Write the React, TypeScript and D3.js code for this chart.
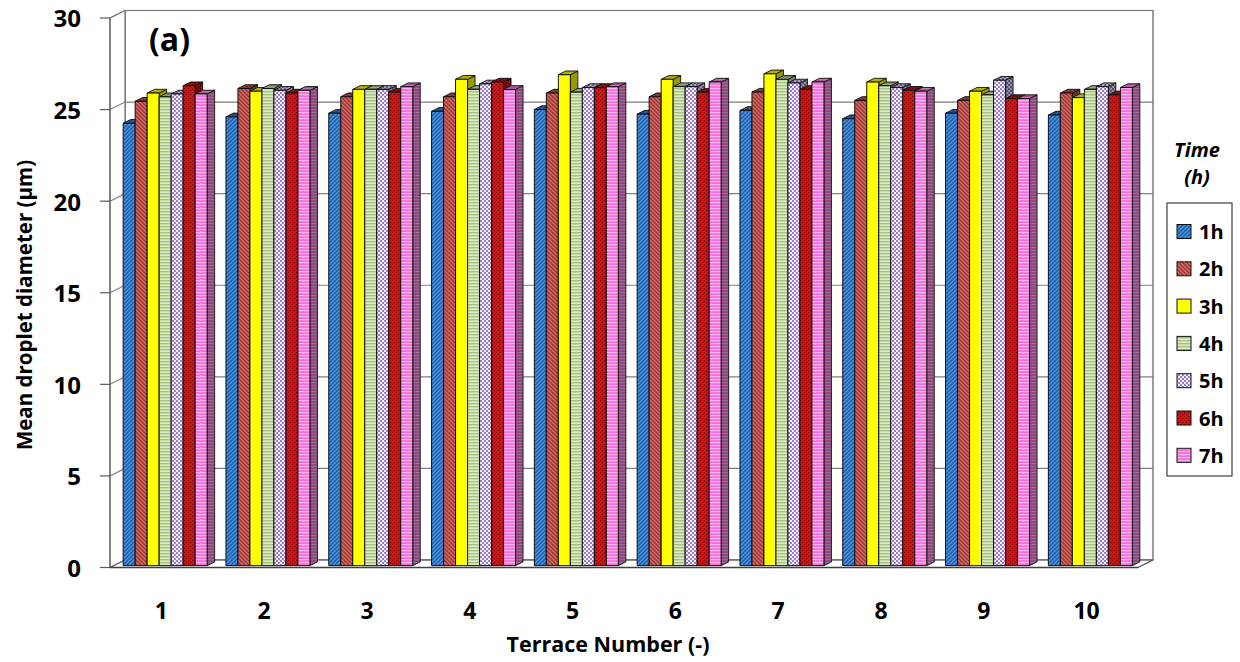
import React from 'react';
import * as d3 from 'd3';

const categories = ['1', '2', '3', '4', '5', '6', '7', '8', '9', '10'];
const seriesNames = ['1h', '2h', '3h', '4h', '5h', '6h', '7h'];
const values1h = [24.15, 24.5, 24.7, 24.8, 24.9, 24.65, 24.85, 24.4, 24.7, 24.6];
const values2h = [25.35, 26.05, 25.6, 25.6, 25.8, 25.6, 25.85, 25.4, 25.4, 25.8];
const values3h = [25.8, 25.9, 26.0, 26.55, 26.8, 26.55, 26.85, 26.4, 25.9, 25.55];
const values4h = [25.6, 26.05, 26.0, 26.0, 25.85, 26.15, 26.55, 26.2, 25.7, 26.0];
const values5h = [25.75, 25.95, 26.0, 26.3, 26.1, 26.15, 26.35, 26.1, 26.5, 26.15];
const values6h = [26.2, 25.8, 25.85, 26.4, 26.1, 25.85, 26.0, 25.95, 25.5, 25.7];
const values7h = [25.75, 25.95, 26.15, 26.0, 26.15, 26.4, 26.4, 25.9, 25.5, 26.1];
const yTicks = [0, 5, 10, 15, 20, 25, 30];

const seriesValues = [values1h, values2h, values3h, values4h, values5h, values6h, values7h];
const patternIds = ['p1', 'p2', 'p3', 'p4', 'p5', 'p6', 'p7'];

const FONT = '"Open Sans", "Liberation Sans", sans-serif';

export default function App() {
  const X0 = 110;
  const X1 = 1138;
  const DX = 15;
  const DY = -7.5;
  const F1 = 0.25;
  const F2 = 0.75;

  const y = d3.scaleLinear().domain([0, 30]).range([567.5, 18]);
  const xGroup = d3.scaleBand<string>().domain(categories).range([X0, X1]).paddingInner(0.183).paddingOuter(0.0915);
  const xSeries = d3.scaleBand<string>().domain(seriesNames).range([0, xGroup.bandwidth()]).padding(0);
  const xCenter = d3.scaleBand<string>().domain(categories).range([X0, X1]).padding(0);

  const P = (x: number, v: number, d: number): [number, number] => [x + d * DX, y(v) + d * DY];
  const poly = (pts: [number, number][]) => pts.map((p) => p[0].toFixed(2) + ',' + p[1].toFixed(2)).join(' ');

  const bars: React.ReactNode[] = [];
  categories.forEach((cat, ci) => {
    seriesNames.forEach((s, si) => {
      const v = seriesValues[si][ci];
      const x0 = (xGroup(cat) as number) + (xSeries(s) as number);
      const x1 = x0 + xSeries.bandwidth();
      const front = [P(x0, 0, F1), P(x1, 0, F1), P(x1, v, F1), P(x0, v, F1)] as [number, number][];
      const top = [P(x0, v, F1), P(x1, v, F1), P(x1, v, F2), P(x0, v, F2)] as [number, number][];
      const side = [P(x1, 0, F1), P(x1, 0, F2), P(x1, v, F2), P(x1, v, F1)] as [number, number][];
      const fill = `url(#${patternIds[si]})`;
      bars.push(
        <g key={cat + '-' + s}>
          <polygon points={poly(side)} fill={fill} />
          <polygon points={poly(side)} fill="#000" fillOpacity={0.4} stroke="#111" strokeWidth={0.9} />
          <polygon points={poly(top)} fill={fill} />
          <polygon points={poly(top)} fill="#000" fillOpacity={0.3} stroke="#111" strokeWidth={0.9} />
          <polygon points={poly(front)} fill={fill} stroke="#111" strokeWidth={1} />
        </g>
      );
    });
  });

  const gridColor = '#7f7f7f';

  return (
    <svg width={1240} height={662} style={{ display: 'block', position: 'absolute', left: 0, top: 0 }}>
      <defs>
        <pattern id="p1" width={4} height={4} patternUnits="userSpaceOnUse">
          <rect width={4} height={4} fill="#4a94e0" />
          <path d="M-1,1 l2,-2 M0,4 l4,-4 M3,5 l2,-2" stroke="#1d5aa6" strokeWidth={1.3} />
        </pattern>
        <pattern id="p2" width={4} height={4} patternUnits="userSpaceOnUse">
          <rect width={4} height={4} fill="#cf6a66" />
          <path d="M0,0 l4,4 M-1,3 l2,2 M3,-1 l2,2" stroke="#9a3430" strokeWidth={1.3} />
        </pattern>
        <pattern id="p3" width={4} height={4} patternUnits="userSpaceOnUse">
          <rect width={4} height={4} fill="#ffff00" />
        </pattern>
        <pattern id="p4" width={4} height={3} patternUnits="userSpaceOnUse">
          <rect width={4} height={3} fill="#dcebc6" />
          <rect y={1} width={4} height={1.4} fill="#a5c27e" />
        </pattern>
        <pattern id="p5" width={4} height={4} patternUnits="userSpaceOnUse">
          <rect width={4} height={4} fill="#f4effa" />
          <rect x={0} y={0} width={2} height={2} fill="#9a7fcc" />
          <rect x={2} y={2} width={2} height={2} fill="#9a7fcc" />
        </pattern>
        <pattern id="p6" width={4} height={4} patternUnits="userSpaceOnUse">
          <rect width={4} height={4} fill="#d01414" />
          <rect x={0} y={0} width={1.2} height={1.2} fill="#850000" />
          <rect x={2} y={2} width={1.2} height={1.2} fill="#850000" />
        </pattern>
        <pattern id="p7" width={4} height={3} patternUnits="userSpaceOnUse">
          <rect width={4} height={3} fill="#f66fd9" />
          <rect y={1} width={4} height={1.2} fill="#fbb8ef" />
        </pattern>
      </defs>

      {/* back wall */}
      <rect x={X0 + DX} y={y(30) + DY} width={X1 - X0} height={y(0) - y(30)} fill="#fff" stroke="#595959" strokeWidth={1.2} />
      {/* left wall */}
      <polygon points={poly([P(X0, 0, 0), P(X0, 30, 0), P(X0, 30, 1), P(X0, 0, 1)])} fill="#fff" stroke="#595959" strokeWidth={1} />
      {/* floor */}
      <polygon points={poly([P(X0, 0, 0), P(X1, 0, 0), P(X1, 0, 1), P(X0, 0, 1)])} fill="#fff" stroke="#404040" strokeWidth={1.2} />
      {/* gridlines */}
      {yTicks.map((t) => {
        const a = P(X0, t, 0);
        const b = P(X0, t, 1);
        const c = P(X1, t, 1);
        return (
          <g key={'g' + t}>
            <polyline points={poly([a, b, c])} fill="none" stroke={gridColor} strokeWidth={1.2} />
            <line x1={X0 - 10} x2={X0} y1={y(t)} y2={y(t)} stroke="#595959" strokeWidth={1.2} />
          </g>
        );
      })}
      <line x1={X0} x2={X0} y1={y(0)} y2={y(30)} stroke="#595959" strokeWidth={1} />
      <line x1={X0} x2={X1} y1={y(0)} y2={y(0)} stroke="#404040" strokeWidth={1.4} />

      {bars}

      {/* y tick labels */}
      {yTicks.map((t) => (
        <text key={'yl' + t} x={81} y={y(t) + 3} textAnchor="end" dominantBaseline="middle" fontFamily={FONT} fontWeight={700} fontSize={24} fill="#000">
          {t}
        </text>
      ))}
      {/* x tick labels */}
      {categories.map((c) => (
        <text key={'xl' + c} x={(xCenter(c) as number) + xCenter.bandwidth() / 2} y={619} textAnchor="middle" fontFamily={FONT} fontWeight={700} fontSize={23} fill="#000">
          {c}
        </text>
      ))}

      <text x={608} y={652} textAnchor="middle" fontFamily={FONT} fontWeight={700} fontSize={21.5} fill="#000">
        Terrace Number (-)
      </text>
      <text transform="translate(32,305) rotate(-90)" textAnchor="middle" fontFamily={FONT} fontWeight={700} fontSize={20.5} fill="#000">
        Mean droplet diameter (µm)
      </text>
      <text x={149} y={51} fontFamily={FONT} fontWeight={700} fontSize={32} fill="#000">
        (a)
      </text>

      {/* legend */}
      <text x={1197} y={157} textAnchor="middle" fontFamily={FONT} fontWeight={700} fontStyle="italic" fontSize={20} fill="#000">
        Time
      </text>
      <text x={1197} y={184} textAnchor="middle" fontFamily={FONT} fontWeight={700} fontStyle="italic" fontSize={20} fill="#000">
        (h)
      </text>
      <rect x={1167} y={203} width={65} height={273} fill="#fff" stroke="#404040" strokeWidth={1.2} />
      {seriesNames.map((s, i) => {
        const cy = 231.5 + i * 37.3;
        return (
          <g key={'lg' + s}>
            <rect x={1177} y={cy - 7} width={14} height={14} fill={`url(#${patternIds[i]})`} stroke="#111" strokeWidth={1} />
            <text x={1199} y={cy} dominantBaseline="central" fontFamily={FONT} fontWeight={700} fontSize={20} fill="#000">
              {s}
            </text>
          </g>
        );
      })}
    </svg>
  );
}
